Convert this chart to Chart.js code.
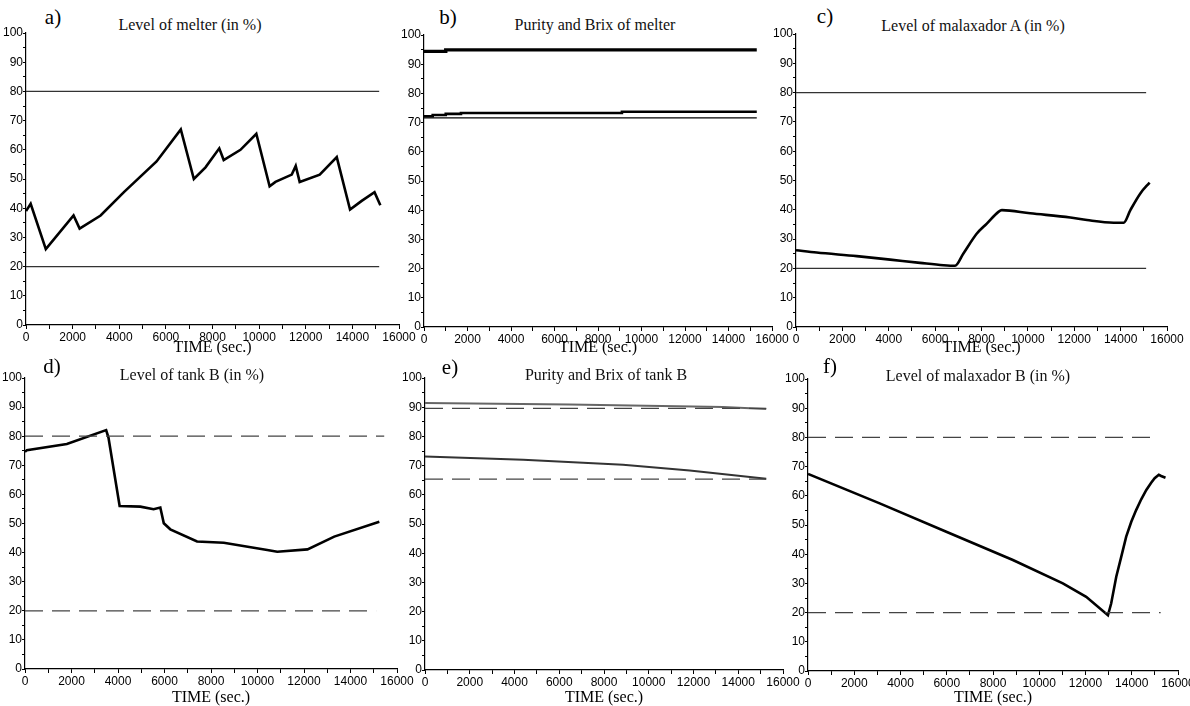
<!DOCTYPE html>
<html>
<head>
<meta charset="utf-8">
<script src="https://cdn.jsdelivr.net/npm/chart.js@4.4.1/dist/chart.umd.min.js"></script>
<style>
  html, body { margin: 0; padding: 0; background: #fff; }
  body { width: 1190px; height: 706px; position: relative; overflow: hidden; }
  canvas { position: absolute; }
  .lbl { position: absolute; transform: translate(-50%, -50%); white-space: nowrap;
         font-family: 'Liberation Serif', 'Times New Roman', serif; color: #000; }
  .letter { font-size: 21px; }
  .ttl { font-size: 16px; color: #111; }
</style>
</head>
<body>
<script>
// ***************************************************
// Data
// ***************************************************

var timeTicks = [0, 2000, 4000, 6000, 8000, 10000, 12000, 14000, 16000];
var levelTicks = [0, 10, 20, 30, 40, 50, 60, 70, 80, 90, 100];

// a) level of melter
var melterTime  = [0, 200, 850, 2040, 2300, 3200, 4200, 5600, 6640, 7200, 7700, 8290, 8480, 9200, 9880, 10450, 10700, 11400, 11570, 11740, 12600, 13330, 13900, 14400, 14950, 15200];
var melterLevel = [39, 41.5, 26, 37.5, 33, 37.5, 45.5, 56, 67, 50, 54, 60.5, 56.5, 60, 65.5, 47.5, 49, 51.5, 54.5, 49, 51.5, 57.5, 39.5, 42.5, 45.5, 41];
var melterLimits = [80, 20];
var melterLimitEnd = [15150, 15150];

// b) purity and brix of melter
var melterBrixTime = [0, 1000, 1100, 15300];
var melterBrix     = [94.4, 94.4, 94.9, 94.9];
var melterPurityTime = [0, 400, 1000, 1700, 9100, 12300, 15300];
var melterPurity     = [71.9, 72.2, 72.6, 73, 73.3, 73.7, 73.7];
var melterPurityRef = [71.6];
var melterPurityRefEnd = [15300];

// c) level of malaxador A
var malATime  = [0, 890, 2620, 4060, 5350, 6360, 6860, 7220, 7800, 8230, 8730, 8880, 10100, 11830, 12550, 13700, 14130, 14420, 14850, 15250];
var malALevel = [26.2, 25.4, 24.2, 23.0, 21.9, 21.1, 20.9, 25.1, 31.9, 35.3, 39.3, 39.9, 38.8, 37.4, 36.5, 35.6, 35.6, 39.9, 45.6, 49.3];
var malALimits = [80, 20];
var malALimitEnd = [15100, 15100];

// d) level of tank B
var tankBTime  = [0, 80, 1800, 3490, 3590, 4070, 4960, 5530, 5820, 5970, 6250, 7400, 8550, 10420, 10850, 12150, 13300, 15240];
var tankBLevel = [74.6, 75.2, 77.3, 82.1, 79.5, 56, 55.8, 54.9, 55.5, 50.1, 48, 43.8, 43.4, 40.9, 40.3, 41.1, 45.5, 50.6];
var tankBLimits = [80, 20];
var tankBLimitEnd = [15450, 15100];

// e) purity and brix of tank B
var tankBBrixTime = [0, 6470, 13320, 15250];
var tankBBrix     = [91.4, 90.9, 90.1, 89.4];
var tankBPurityTime = [0, 4390, 8850, 11830, 15250];
var tankBPurity     = [73.1, 72, 70.3, 68.3, 65.5];
var tankBQualityLimits = [89.6, 65.4];
var tankBQualityLimitEnd = [15250, 15250];

// f) level of malaxador B
var malBTime  = [0, 3100, 5980, 8860, 11020, 12030, 12970, 13110, 13330, 13545, 13760, 13980, 14190, 14410, 14630, 14840, 14990, 15170, 15270, 15460];
var malBLevel = [67.5, 57.4, 47.7, 38, 30, 25.4, 19.1, 23.1, 32.3, 39.1, 46, 51.1, 55.1, 58.8, 62, 64.5, 66, 67.2, 66.8, 66.2];
var malBLimits = [80, 20];
var malBLimitEnd = [14950, 15250];

// ***************************************************
// Helpers
// ***************************************************

function pts(xs, ys) {
  return xs.map(function (x, i) { return { x: x, y: ys[i] }; });
}

function flat(value, end) {
  return [{ x: 0, y: value }, { x: end, y: value }];
}

function curve(label, xs, ys, extra) {
  return extend({
    label: label, data: pts(xs, ys), borderColor: '#000', borderWidth: 2.6,
    pointRadius: 0, fill: false, tension: 0
  }, extra || {});
}

function limits(label, values, ends, dashed, color) {
  return values.map(function (v, i) {
    return {
      label: label, data: flat(v, ends[i]), borderColor: color || '#333',
      borderWidth: 1.2, borderDash: dashed ? [18, 9] : [], pointRadius: 0, fill: false
    };
  });
}

function extend() {
  for (var i = 1; i < arguments.length; i++) {
    for (var prop in arguments[i]) {
      if (arguments[i].hasOwnProperty(prop)) arguments[0][prop] = arguments[i][prop];
    }
  }
  return arguments[0];
}

// ***************************************************
// Panels: letter, title, plot box (value 0 / 16000 / 100 / 0 in pixels)
// ***************************************************

var panels = [
  { letter: 'a)', title: 'Level of melter (in %)', lx: 53, ly: 17, tx: 190, ty: 25,
    L: 26, R: 399, T: 33, B: 325, labelY: 347,
    datasets: limits('limits', melterLimits, melterLimitEnd, false)
      .concat([curve('level', melterTime, melterLevel)]) },
  { letter: 'b)', title: 'Purity and Brix of melter', lx: 448, ly: 17, tx: 595, ty: 25,
    L: 424, R: 772, T: 35, B: 327, labelY: 347,
    datasets: limits('purity ref', melterPurityRef, melterPurityRefEnd, false, '#000')
      .concat([curve('brix', melterBrixTime, melterBrix, { borderWidth: 3.4, stepped: 'after' }),
               curve('purity', melterPurityTime, melterPurity, { stepped: 'after' })]) },
  { letter: 'c)', title: 'Level of malaxador A (in %)', lx: 825, ly: 16, tx: 973, ty: 26,
    L: 796, R: 1167, T: 34, B: 327, labelY: 347,
    datasets: limits('limits', malALimits, malALimitEnd, false)
      .concat([curve('level', malATime, malALevel, { cubicInterpolationMode: 'monotone' })]) },
  { letter: 'd)', title: 'Level of tank B (in %)', lx: 52, ly: 366, tx: 192, ty: 375,
    L: 25, R: 397, T: 378, B: 669, labelY: 697,
    datasets: limits('limits', tankBLimits, tankBLimitEnd, true, '#444')
      .concat([curve('level', tankBTime, tankBLevel)]) },
  { letter: 'e)', title: 'Purity and Brix of  tank B', lx: 450, ly: 367, tx: 606, ty: 375,
    L: 425, R: 783, T: 378, B: 670, labelY: 697,
    datasets: limits('limits', tankBQualityLimits, tankBQualityLimitEnd, true, '#444')
      .concat([curve('brix', tankBBrixTime, tankBBrix, { borderColor: '#666', borderWidth: 2 }),
               curve('purity', tankBPurityTime, tankBPurity, { borderColor: '#333', borderWidth: 2 })]) },
  { letter: 'f)', title: 'Level of malaxador B (in %)', lx: 830, ly: 366, tx: 978, ty: 376,
    L: 808, R: 1178, T: 379, B: 671, labelY: 697,
    datasets: limits('limits', malBLimits, malBLimitEnd, true, '#444')
      .concat([curve('level', malBTime, malBLevel)]) }
];

var tickFont = { family: "'Liberation Sans Narrow', 'Arial Narrow', 'Liberation Sans', sans-serif", size: 12 };
var Y_AXIS_W = 30, PAD_TOP = 10, PAD_RIGHT = 22;

// ***************************************************
// Render
// ***************************************************

panels.forEach(function (p) {
  var xh = Math.round(p.labelY + 9.6 - p.B);

  var letter = document.createElement('div');
  letter.className = 'lbl letter';
  letter.style.left = p.lx + 'px'; letter.style.top = p.ly + 'px';
  letter.textContent = p.letter;
  document.body.appendChild(letter);

  var ttl = document.createElement('div');
  ttl.className = 'lbl ttl';
  ttl.style.left = p.tx + 'px'; ttl.style.top = p.ty + 'px';
  ttl.textContent = p.title;
  document.body.appendChild(ttl);

  var canvas = document.createElement('canvas');
  var w = (p.R - p.L) + Y_AXIS_W + PAD_RIGHT;
  var h = PAD_TOP + (p.B - p.T) + xh;
  canvas.width = w; canvas.height = h;
  canvas.style.left = (p.L - Y_AXIS_W) + 'px';
  canvas.style.top = (p.T - PAD_TOP) + 'px';
  canvas.style.width = w + 'px'; canvas.style.height = h + 'px';
  document.body.appendChild(canvas);

  new Chart(canvas, {
    type: 'line',
    data: { datasets: p.datasets },
    options: {
      responsive: false,
      animation: false,
      devicePixelRatio: 1,
      layout: { padding: { left: 0, top: PAD_TOP, right: PAD_RIGHT, bottom: 0 } },
      plugins: { legend: { display: false }, tooltip: { enabled: false } },
      scales: {
        x: {
          type: 'linear', min: timeTicks[0], max: timeTicks[timeTicks.length - 1],
          afterFit: function (s) { s.height = xh; },
          border: { color: '#000', width: 1.2 },
          grid: { drawOnChartArea: false, tickLength: 4, color: '#000' },
          ticks: {
            stepSize: 1000, autoSkip: false, maxRotation: 0, padding: 1,
            color: '#000', font: tickFont,
            callback: function (v) { return timeTicks.indexOf(v) >= 0 ? String(v) : ''; }
          },
          title: {
            display: true, text: 'TIME (sec.)', color: '#000', padding: 0,
            font: { family: "'Liberation Serif', 'Times New Roman', serif", size: 16 }
          }
        },
        y: {
          min: levelTicks[0], max: levelTicks[levelTicks.length - 1],
          afterFit: function (s) { s.width = Y_AXIS_W; },
          border: { color: '#000', width: 1.2 },
          grid: { drawOnChartArea: false, tickLength: 3, color: '#000' },
          ticks: {
            stepSize: 5, autoSkip: false, padding: 0, color: '#000', font: tickFont,
            callback: function (v) { return levelTicks.indexOf(v) >= 0 ? String(v) : ''; }
          }
        }
      }
    }
  });
});
</script>
</body>
</html>
